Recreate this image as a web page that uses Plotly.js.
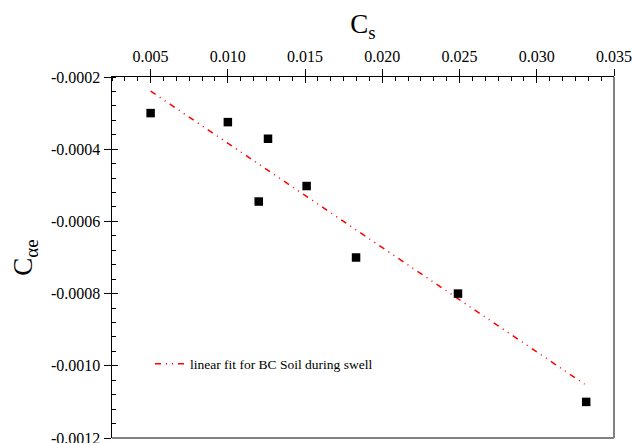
<!DOCTYPE html>
<html>
<head>
<meta charset="utf-8">
<script src="https://cdn.plot.ly/plotly-3.0.1.min.js"></script>
<style>html,body{margin:0;padding:0;background:#fff;}#chart{width:633px;height:443px;}</style>
</head>
<body>
<div id="chart"></div>
<script>
// Data
const cs = [0.0050, 0.0100, 0.0126, 0.0120, 0.0151, 0.0183, 0.0249, 0.0332];
const cae = [-0.000300, -0.000325, -0.000371, -0.000545, -0.000502, -0.000700, -0.000800, -0.001100];
const fitX = [0.0050, 0.0331];
const fitY = [-0.000239, -0.001051];
const fitName = 'linear fit for BC Soil during swell';
const xTickVals = [0.005, 0.010, 0.015, 0.020, 0.025, 0.030, 0.035];
const xTickText = ['0.005', '0.010', '0.015', '0.020', '0.025', '0.030', '0.035'];
const yTickVals = [-0.0002, -0.0004, -0.0006, -0.0008, -0.0010, -0.0012];
const yTickText = ['-0.0002', '-0.0004', '-0.0006', '-0.0008', '-0.0010', '-0.0012'];

const FONT = 'Liberation Serif, Times New Roman, serif';
const XR = [0.0025, 0.035];
const YR = [-0.00120001, -0.0002];

const traces = [
  {
    x: fitX, y: fitY, type: 'scatter', mode: 'lines', name: fitName,
    line: {color: '#ff0000', width: 1.5, dash: '6px,5px,1px,5px,1px,5px'},
    showlegend: true, xaxis: 'x', yaxis: 'y'
  },
  {
    x: cs, y: cae, type: 'scatter', mode: 'markers', name: 'data',
    marker: {symbol: 'square', size: 8.5, color: '#000000', line: {width: 0}},
    showlegend: false, xaxis: 'x', yaxis: 'y'
  },
  {
    x: [], y: [], type: 'scatter', mode: 'markers', showlegend: false,
    hoverinfo: 'skip', xaxis: 'x2', yaxis: 'y2'
  }
];

const layout = {
  width: 633, height: 443,
  margin: {l: 112, r: 19, t: 77, b: 5, pad: 0},
  paper_bgcolor: '#ffffff', plot_bgcolor: '#ffffff',
  font: {family: FONT, color: '#000000'},
  showlegend: true,
  legend: {
    x: 0.0757, y: 0.205, xanchor: 'left', yanchor: 'middle',
    bgcolor: 'rgba(0,0,0,0)', borderwidth: 0,
    font: {family: FONT, size: 13.5, color: '#000000'}
  },
  xaxis: {
    side: 'top', range: XR, anchor: 'y',
    showline: true, linecolor: '#000000', linewidth: 1.5,
    showgrid: false, zeroline: false,
    tickmode: 'array', tickvals: xTickVals, ticktext: xTickText,
    ticks: 'outside', ticklen: 7, tickwidth: 1, tickcolor: '#000000',
    ticklabeloverflow: 'allow',
    tickfont: {family: FONT, size: 16, color: '#000000'},
    minor: {tickmode: 'linear', tick0: 0.005, dtick: 0.005 / 6, ticks: 'inside', ticklen: 4, tickwidth: 1, tickcolor: '#000000', showgrid: false},
    title: {text: 'C<sub>s</sub>', font: {family: FONT, size: 27, color: '#000000'}, standoff: 6}
  },
  yaxis: {
    range: YR, anchor: 'x',
    showline: true, linecolor: '#000000', linewidth: 1.5,
    showgrid: false, zeroline: false,
    tickmode: 'array', tickvals: yTickVals, ticktext: yTickText,
    ticks: 'outside', ticklen: 7, tickwidth: 1, tickcolor: '#000000',
    ticklabeloverflow: 'allow',
    tickfont: {family: FONT, size: 16, color: '#000000'},
    minor: {tickmode: 'linear', tick0: -0.0012, dtick: 0.00004, ticks: 'inside', ticklen: 4, tickwidth: 1, tickcolor: '#000000', showgrid: false},
    title: {text: 'C<sub>αe</sub>', font: {family: FONT, size: 27, color: '#000000'}, standoff: 10}
  },
  xaxis2: {
    overlaying: 'x', side: 'top', anchor: 'y2', range: XR,
    showline: false, showgrid: false, zeroline: false, showticklabels: false,
    tickmode: 'array', tickvals: xTickVals,
    ticks: 'inside', ticklen: 6, tickwidth: 1, tickcolor: '#000000'
  },
  yaxis2: {
    overlaying: 'y', side: 'left', anchor: 'x2', range: YR,
    showline: false, showgrid: false, zeroline: false, showticklabels: false,
    tickmode: 'array', tickvals: yTickVals,
    ticks: 'inside', ticklen: 6, tickwidth: 1, tickcolor: '#000000'
  },
  shapes: [
    {type: 'line', xref: 'paper', yref: 'paper', x0: 0, x1: 1, y0: 0, y1: 0, line: {color: '#808080', width: 2}},
    {type: 'line', xref: 'paper', yref: 'paper', x0: 1, x1: 1, y0: 0, y1: 1, line: {color: '#808080', width: 2}}
  ]
};

Plotly.newPlot('chart', traces, layout, {displayModeBar: false, staticPlot: true});
</script>
</body>
</html>
